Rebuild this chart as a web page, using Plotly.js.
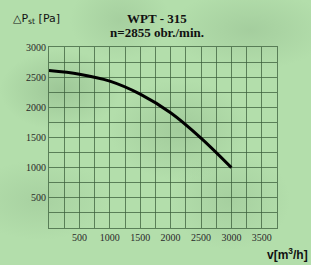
<!DOCTYPE html>
<html><head><meta charset="utf-8">
<script src="https://cdn.plot.ly/plotly-3.0.1.min.js"></script>
<style>
html,body{margin:0;padding:0;}
body{width:311px;height:265px;overflow:hidden;
background:
radial-gradient(ellipse 60px 40px at 60px 90px, rgba(140,180,135,0.55), rgba(140,180,135,0) 100%),
radial-gradient(ellipse 70px 50px at 180px 130px, rgba(145,185,140,0.5), rgba(145,185,140,0) 100%),
radial-gradient(ellipse 80px 40px at 250px 30px, rgba(150,190,145,0.5), rgba(150,190,145,0) 100%),
radial-gradient(ellipse 60px 50px at 230px 200px, rgba(150,190,145,0.45), rgba(150,190,145,0) 100%),
radial-gradient(ellipse 50px 40px at 120px 20px, rgba(150,190,145,0.45), rgba(150,190,145,0) 100%),
radial-gradient(ellipse 70px 40px at 40px 200px, rgba(150,190,145,0.4), rgba(150,190,145,0) 100%),
#b3deab;}
#chart{width:311px;height:265px;}
</style></head>
<body><div id="chart"></div>
<script>
const flow = [0, 500, 1000, 1500, 2000, 2500, 3000];
const pressure = [2610, 2550, 2435, 2220, 1910, 1490, 1000];
const gridStep = [250, 500, 750, 1000, 1250, 1500, 1750, 2000, 2250, 2500, 2750, 3000, 3250, 3500];
const xLabels = ["", "500", "", "1000", "", "1500", "", "2000", "", "2500", "", "3000", "", "3500"];
const yLabels = ["", "500", "", "1000", "", "1500", "", "2000", "", "2500", "", "3000", "", ""];
const titleLines = ["WPT - 315", "n=2855 obr./min."];

const gridColor = "rgba(60,95,60,0.75)";
const tickFont = {family: "Liberation Serif", size: 10, color: "#2a2a2a"};
const py = p => (228 - p) / 181;
const px = p => (p - 49) / 228;

Plotly.newPlot("chart", [{
  x: flow, y: pressure, type: "scatter", mode: "lines",
  line: {color: "#000", width: 3, shape: "spline", smoothing: 1},
  hoverinfo: "skip"
}], {
  width: 311, height: 265,
  margin: {l: 49, r: 34, t: 47, b: 37},
  paper_bgcolor: "rgba(0,0,0,0)", plot_bgcolor: "rgba(0,0,0,0)",
  showlegend: false,
  xaxis: {range: [0, 3750], tickvals: gridStep, ticktext: xLabels, showgrid: true,
    gridcolor: gridColor, gridwidth: 1, showline: true, linecolor: gridColor, mirror: true,
    ticks: "", tickfont: tickFont, zeroline: false, fixedrange: true},
  yaxis: {range: [0, 3000], tickvals: gridStep, ticktext: yLabels, showgrid: true,
    gridcolor: gridColor, gridwidth: 1, showline: true, linecolor: gridColor, mirror: true,
    ticks: "", tickfont: tickFont, zeroline: false, fixedrange: true},
  annotations: [
    {text: "<b>" + titleLines[0] + "</b>", xref: "paper", yref: "paper", x: px(157), y: py(19), xanchor: "center", yanchor: "middle", showarrow: false,
     font: {family: "Liberation Serif", size: 13, color: "#111"}},
    {text: "<b>" + titleLines[1] + "</b>", xref: "paper", yref: "paper", x: px(157), y: py(32), xanchor: "center", yanchor: "middle", showarrow: false,
     font: {family: "Liberation Serif", size: 13, color: "#111"}},
    {text: "△P<sub>st</sub> [Pa]", xref: "paper", yref: "paper", x: px(11), y: py(19), xanchor: "left", yanchor: "middle", showarrow: false,
     font: {family: "DejaVu Sans", size: 11, color: "#111"}},
    {text: "<b>v[m<sup>3</sup>/h]</b>", xref: "paper", yref: "paper", x: px(310), y: py(254), xanchor: "right", yanchor: "middle", showarrow: false,
     font: {family: "Liberation Sans", size: 12, color: "#111"}}
  ]
}, {staticPlot: true});
</script></body></html>
